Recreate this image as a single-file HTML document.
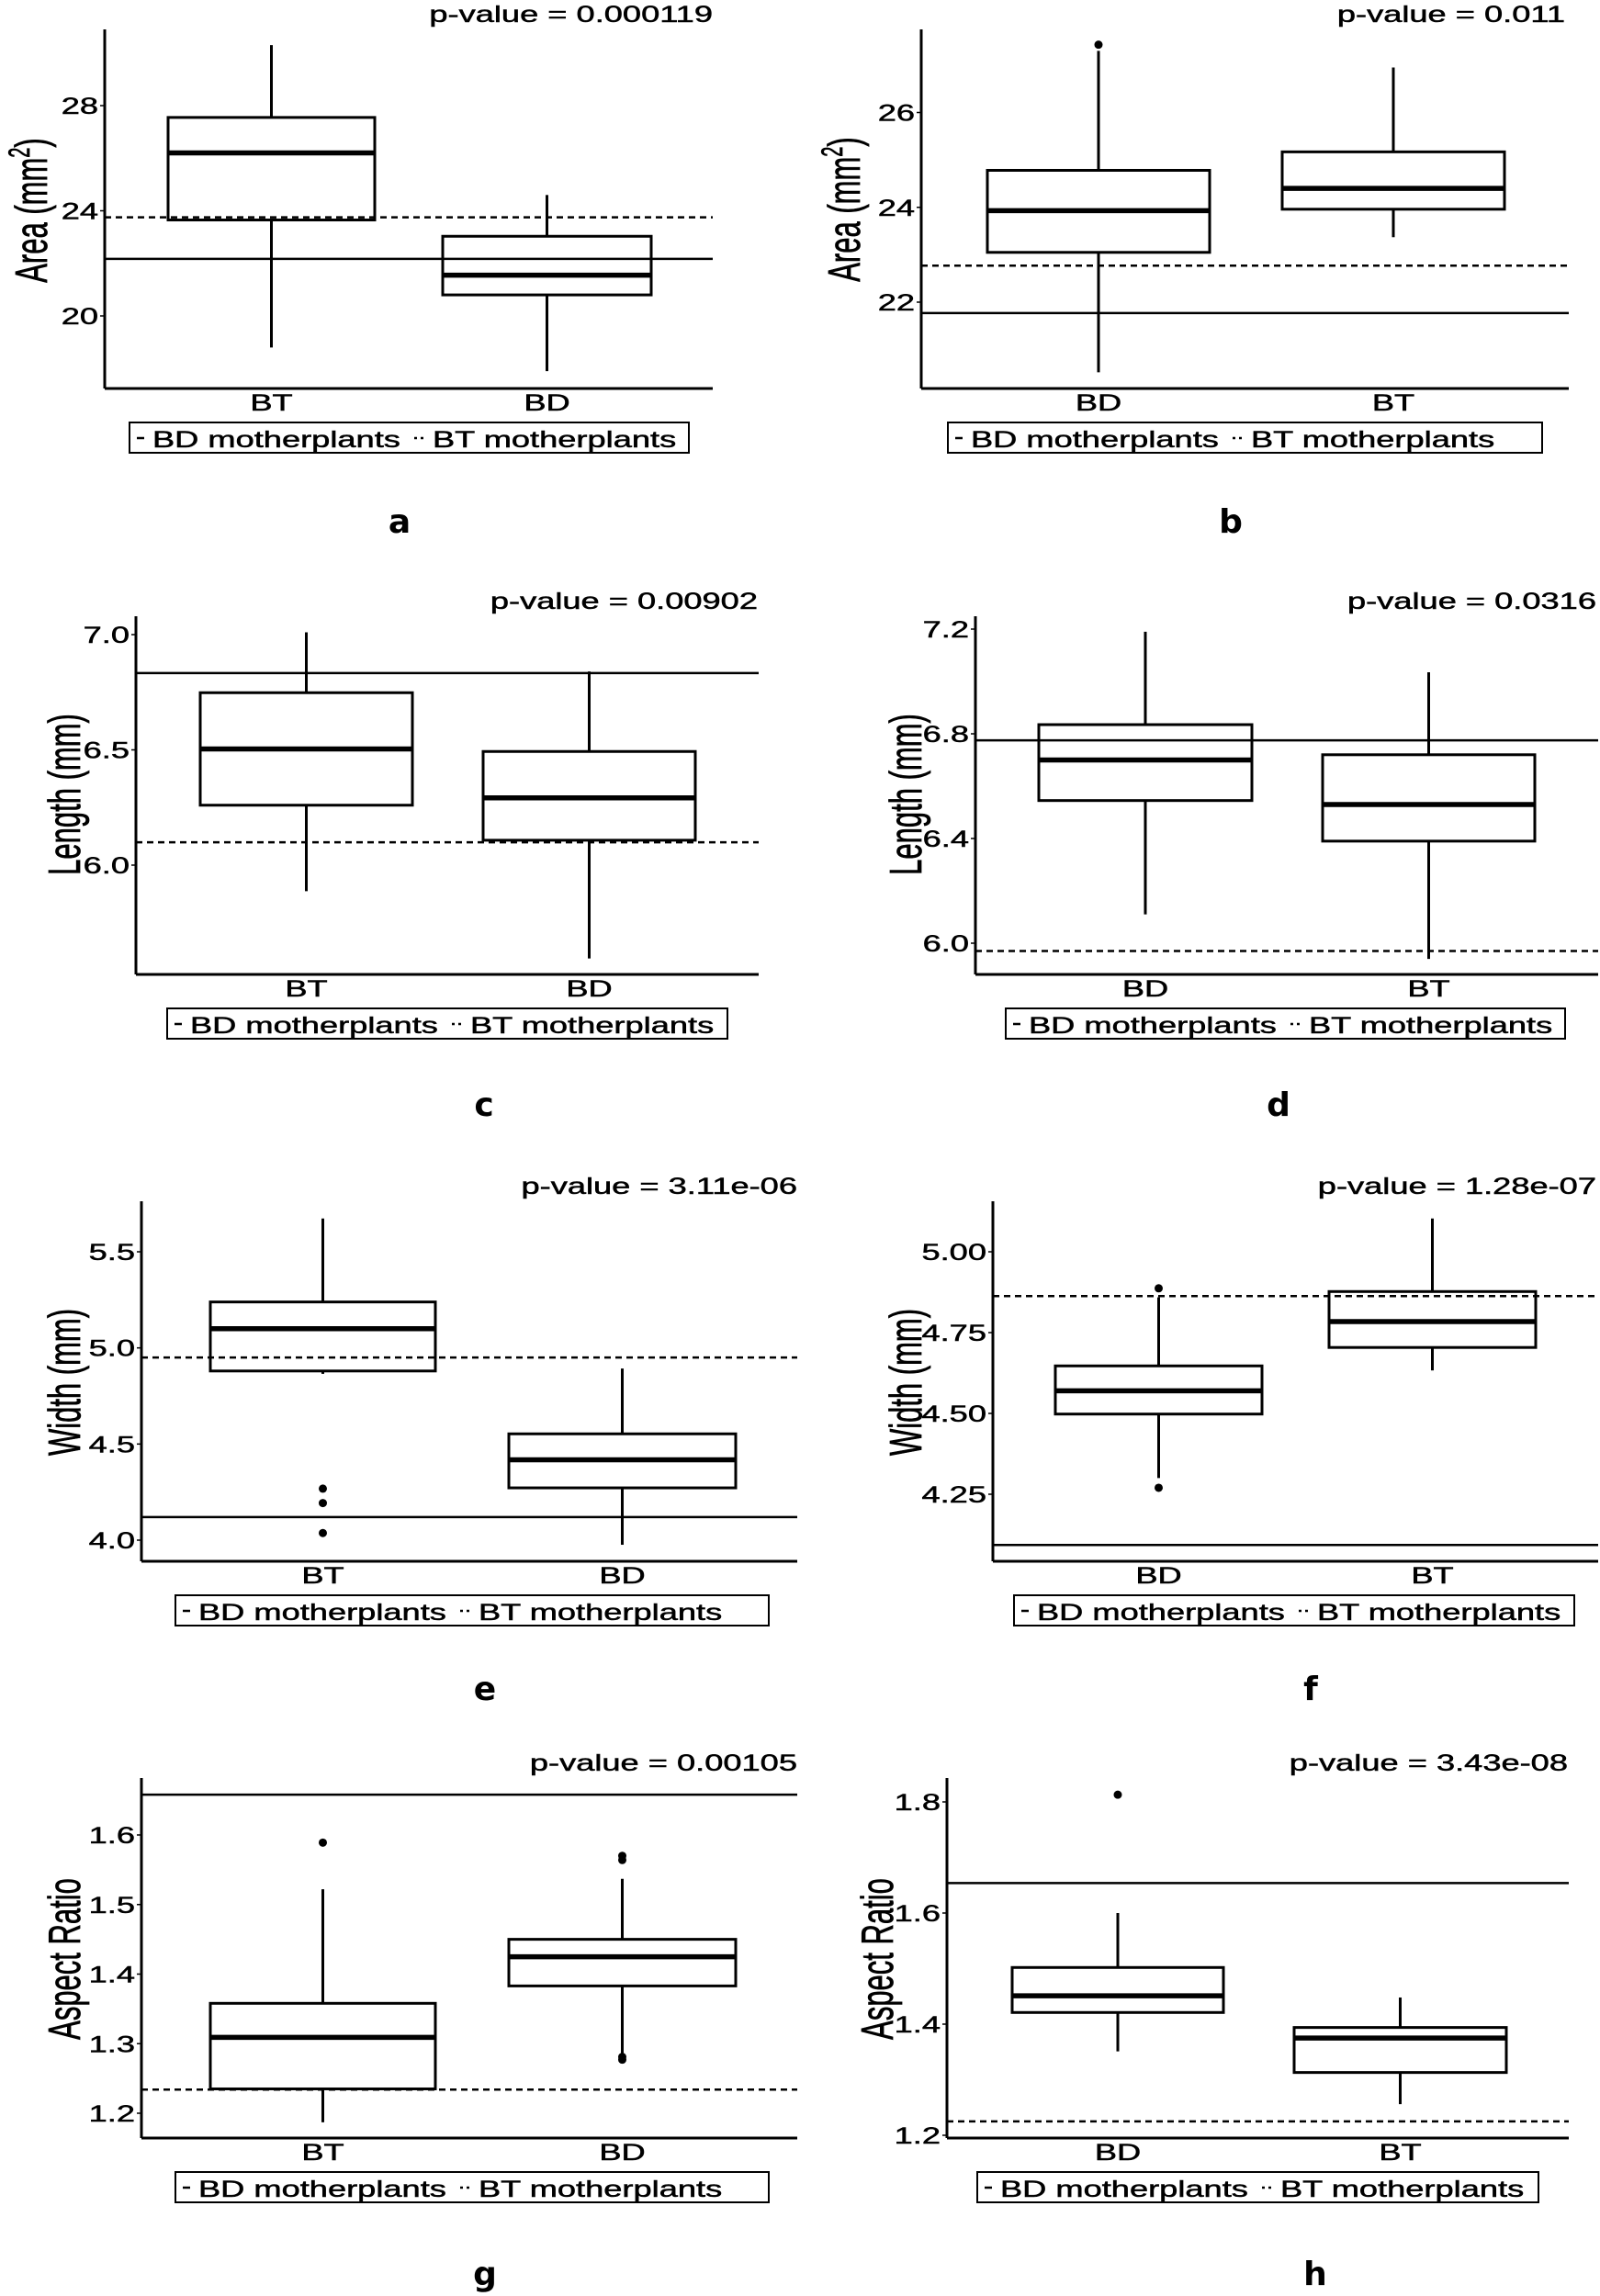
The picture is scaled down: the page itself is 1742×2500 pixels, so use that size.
<!DOCTYPE html>
<html>
<head>
<meta charset="utf-8">
<style>
  html,body{margin:0;padding:0;background:#fff;}
  svg{display:block;}
  text{font-family:"Liberation Sans",Arial,sans-serif;fill:#000;stroke:#000;stroke-width:0.5px;}
  .lbl{font-family:"DejaVu Sans",sans-serif;font-weight:bold;stroke-width:0;}
</style>
</head>
<body>
<svg id="fig" width="1742" height="2500" viewBox="0 0 1742 2500" xmlns="http://www.w3.org/2000/svg"></svg>
<script>
// ---------- DATA (per panel) ----------
const catsA = ['BT','BD'];
const lowA  = [18.8, 17.9];
const q1A   = [23.65, 20.8];
const medA  = [26.2, 21.55];
const q3A   = [27.55, 23.03];
const highA = [30.3, 24.6];
const outA  = [];
const solidA = 22.17, dashA = 23.75;
const ticksA = [20, 24, 28];
const pA = 'p-value = 0.000119';

const catsB = ['BD','BT'];
const lowB  = [20.52, 23.37];
const q1B   = [23.05, 23.96];
const medB  = [23.93, 24.4];
const q3B   = [24.78, 25.17];
const highB = [27.3, 26.95];
const outB  = [[0, 27.43]];
const solidB = 21.77, dashB = 22.77;
const ticksB = [22, 24, 26];
const pB = 'p-value = 0.011';

const catsC = ['BT','BD'];
const lowC  = [5.887, 5.595];
const q1C   = [6.26, 6.108];
const medC  = [6.504, 6.292];
const q3C   = [6.748, 6.493];
const highC = [7.01, 6.84];
const outC  = [];
const solidC = 6.833, dashC = 6.099;
const ticksC = ['6.0', '6.5', '7.0'];
const pC = 'p-value = 0.00902';

const catsD = ['BD','BT'];
const lowD  = [6.11, 5.94];
const q1D   = [6.545, 6.39];
const medD  = [6.70, 6.53];
const q3D   = [6.835, 6.72];
const highD = [7.19, 7.035];
const outD  = [];
const solidD = 6.775, dashD = 5.97;
const ticksD = ['6.0', '6.4', '6.8', '7.2'];
const pD = 'p-value = 0.0316';

const catsE = ['BT','BD'];
const lowE  = [4.865, 3.976];
const q1E   = [4.88, 4.272];
const medE  = [5.10, 4.418];
const q3E   = [5.239, 4.553];
const highE = [5.673, 4.893];
const outE  = [[0, 4.268], [0, 4.193], [0, 4.037]];
const solidE = 4.12, dashE = 4.95;
const ticksE = ['4.0', '4.5', '5.0', '5.5'];
const pE = 'p-value = 3.11e-06';

const catsF = ['BD','BT'];
const lowF  = [4.30, 4.633];
const q1F   = [4.498, 4.704];
const medF  = [4.57, 4.784];
const q3F   = [4.647, 4.877];
const highF = [4.859, 5.103];
const outF  = [[0, 4.887], [0, 4.27]];
const solidF = 4.093, dashF = 4.863;
const ticksF = ['4.25', '4.50', '4.75', '5.00'];
const pF = 'p-value = 1.28e-07';

const catsG = ['BT','BD'];
const lowG  = [1.187, 1.283];
const q1G   = [1.235, 1.383];
const medG  = [1.309, 1.425];
const q3G   = [1.358, 1.450];
const highG = [1.522, 1.537];
const outG  = [[0, 1.589], [1, 1.570], [1, 1.564], [1, 1.281], [1, 1.277]];
const solidG = 1.658, dashG = 1.234;
const ticksG = ['1.2', '1.3', '1.4', '1.5', '1.6'];
const pG = 'p-value = 0.00105';

const catsH = ['BD','BT'];
const lowH  = [1.351, 1.256];
const q1H   = [1.421, 1.313];
const medH  = [1.451, 1.375];
const q3H   = [1.502, 1.394];
const highH = [1.60, 1.448];
const outH  = [[0, 1.813]];
const solidH = 1.654, dashH = 1.225;
const ticksH = ['1.2', '1.4', '1.6', '1.8'];
const pH = 'p-value = 3.43e-08';

// ---------- LAYOUT (pixels) ----------
const panels = [
  {id:'a', cats:catsA, low:lowA, q1:q1A, med:medA, q3:q3A, high:highA, out:outA, solid:solidA, dash:dashA, ticks:ticksA, p:pA, ylab:'area',
   ax:114, top:32, bot:423, right:776, v1:28, p1:115, v2:20, p2:344, boxes:[[183,408],[482,709]], legL:141, legW:609, pvR:776, lblX:435, lblY:580, ylX:33, ylY:229},
  {id:'b', cats:catsB, low:lowB, q1:q1B, med:medB, q3:q3B, high:highB, out:outB, solid:solidB, dash:dashB, ticks:ticksB, p:pB, ylab:'area',
   ax:1003, top:32, bot:423, right:1708, v1:26, p1:122.5, v2:22, p2:329, boxes:[[1075,1317],[1396,1638]], legL:1032, legW:647, pvR:1704, lblX:1340, lblY:580, ylX:918, ylY:228},
  {id:'c', cats:catsC, low:lowC, q1:q1C, med:medC, q3:q3C, high:highC, out:outC, solid:solidC, dash:dashC, ticks:ticksC, p:pC, ylab:'Length (mm)',
   ax:148, top:671, bot:1061, right:826, v1:7.0, p1:691, v2:6.0, p2:942, boxes:[[218,449],[526,757]], legL:182, legW:610, pvR:825, lblX:527, lblY:1215, ylX:69, ylY:865},
  {id:'d', cats:catsD, low:lowD, q1:q1D, med:medD, q3:q3D, high:highD, out:outD, solid:solidD, dash:dashD, ticks:ticksD, p:pD, ylab:'Length (mm)',
   ax:1062, top:671, bot:1061, right:1740, v1:7.2, p1:685, v2:6.0, p2:1027, boxes:[[1131,1363],[1440,1671]], legL:1095, legW:609, pvR:1738, lblX:1392, lblY:1215, ylX:985, ylY:865},
  {id:'e', cats:catsE, low:lowE, q1:q1E, med:medE, q3:q3E, high:highE, out:outE, solid:solidE, dash:dashE, ticks:ticksE, p:pE, ylab:'Width (mm)',
   ax:154, top:1308, bot:1700, right:868, v1:5.5, p1:1363, v2:4.0, p2:1677, boxes:[[229,474],[554,801]], legL:191, legW:646, pvR:868, lblX:528, lblY:1851, ylX:69, ylY:1505},
  {id:'f', cats:catsF, low:lowF, q1:q1F, med:medF, q3:q3F, high:highF, out:outF, solid:solidF, dash:dashF, ticks:ticksF, p:pF, ylab:'Width (mm)',
   ax:1081, top:1308, bot:1700, right:1740, v1:5.0, p1:1363, v2:4.25, p2:1627, boxes:[[1149,1374],[1447,1672]], legL:1104, legW:610, pvR:1738, lblX:1427, lblY:1851, ylX:985, ylY:1505},
  {id:'g', cats:catsG, low:lowG, q1:q1G, med:medG, q3:q3G, high:highG, out:outG, solid:solidG, dash:dashG, ticks:ticksG, p:pG, ylab:'Aspect Ratio',
   ax:154, top:1936, bot:2328, right:868, v1:1.6, p1:1998, v2:1.2, p2:2301, boxes:[[229,474],[554,801]], legL:191, legW:646, pvR:868, lblX:528, lblY:2488, ylX:69, ylY:2133},
  {id:'h', cats:catsH, low:lowH, q1:q1H, med:medH, q3:q3H, high:highH, out:outH, solid:solidH, dash:dashH, ticks:ticksH, p:pH, ylab:'Aspect Ratio',
   ax:1031, top:1936, bot:2328, right:1708, v1:1.8, p1:1962, v2:1.2, p2:2325, boxes:[[1102,1332],[1409,1640]], legL:1064, legW:611, pvR:1707, lblX:1432, lblY:2488, ylX:954, ylY:2133}
];

const NS = 'http://www.w3.org/2000/svg';
const svg = document.getElementById('fig');
const SX = 1.45, FS = 25;

function mk(tag, attrs, parent) {
  const e = document.createElementNS(NS, tag);
  for (const k in attrs) e.setAttribute(k, attrs[k]);
  parent.appendChild(e);
  return e;
}
function line(x1, y1, x2, y2, w, parent, dash) {
  const l = mk('line', {x1:x1, y1:y1, x2:x2, y2:y2, stroke:'#000', 'stroke-width':w}, parent);
  if (dash) l.setAttribute('stroke-dasharray', dash);
  return l;
}
function stext(str, x, y, anchor, parent, size) {
  const t = mk('text', {transform:'translate(' + x + ',' + y + ') scale(' + SX + ',1)', 'text-anchor':anchor, 'font-size':size || FS}, parent);
  t.textContent = str;
  return t;
}

panels.forEach(function (P) {
  const g = mk('g', {}, svg);
  
  
  const yScale = function (v) { return P.p1 + (v - P.v1) * (P.p2 - P.p1) / (P.v2 - P.v1); };

  const yAxis = line(P.ax, P.top, P.ax, P.bot, 3, g);
  
  
  const xAxis = line(P.ax, P.bot, P.right, P.bot, 3, g);
  
  

  P.ticks.forEach(function (tv) {
    const y = yScale(parseFloat(tv));
    line(P.ax - 5, y, P.ax, y, 1.5, g);
    const t = stext(String(tv), P.ax - 7, y + 9, 'end', g);
    
    
  });

  P.cats.forEach(function (c, i) {
    const bx = P.boxes[i];
    const cx = (bx[0] + bx[1]) / 2;
    const bg = mk('g', {}, g);
    
    
    line(cx, yScale(P.high[i]), cx, yScale(P.q3[i]), 3, bg);
    line(cx, yScale(P.q1[i]), cx, yScale(P.low[i]), 3, bg);
    mk('rect', {x:bx[0], y:yScale(P.q3[i]), width:bx[1] - bx[0], height:yScale(P.q1[i]) - yScale(P.q3[i]), fill:'#fff', stroke:'#000', 'stroke-width':3}, bg);
    line(bx[0], yScale(P.med[i]), bx[1], yScale(P.med[i]), 5.5, bg);
    const xl = stext(c, cx, P.bot + 24, 'middle', g);
    
    
  });
  P.out.forEach(function (o) {
    const bx = P.boxes[o[0]];
    const d = mk('circle', {cx:(bx[0] + bx[1]) / 2, cy:yScale(o[1]), r:4.5, fill:'#000'}, g);
    
    
  });

  const sl = line(P.ax, yScale(P.solid), P.right, yScale(P.solid), 2.5, g);
  
  
  const dl = line(P.ax, yScale(P.dash), P.right, yScale(P.dash), 2.5, g, '7,5');
  
  

  const pv = stext(P.p, P.pvR, P.top - 8, 'end', g);
  
  

  const yt = mk('text', {transform:'translate(' + (P.ylX + 18) + ',' + P.ylY + ') rotate(-90) scale(1,1.6)', 'text-anchor':'middle', 'font-size':31}, g);
  
  
  if (P.ylab === 'area') {
    yt.appendChild(document.createTextNode('Area (mm'));
    const sup = mk('tspan', {'font-size':20, dy:-12}, yt);
    sup.textContent = '2';
    const cl = mk('tspan', {dy:12}, yt);
    cl.textContent = ')';
  } else {
    yt.textContent = P.ylab;
  }

  const lg = mk('g', {}, g);
  
  
  const lt = P.bot + 37;
  mk('rect', {x:P.legL, y:lt, width:P.legW, height:33, fill:'#fff', stroke:'#000', 'stroke-width':2}, lg);
  line(P.legL + 8, lt + 17, P.legL + 16, lt + 17, 2.5, lg);
  const t1 = stext('BD motherplants', P.legL + 25, lt + 27, 'start', lg);
  
  
  line(P.legL + 310, lt + 17, P.legL + 322, lt + 17, 2.5, lg, '3,4');
  const t2 = stext('BT motherplants', P.legL + 330, lt + 27, 'start', lg);
  
  

  const pl = mk('text', {x:P.lblX, y:P.lblY, 'text-anchor':'middle', 'font-size':36, 'class':'lbl'}, g);
  
  
  pl.textContent = P.id;
});
</script>
</body>
</html>
